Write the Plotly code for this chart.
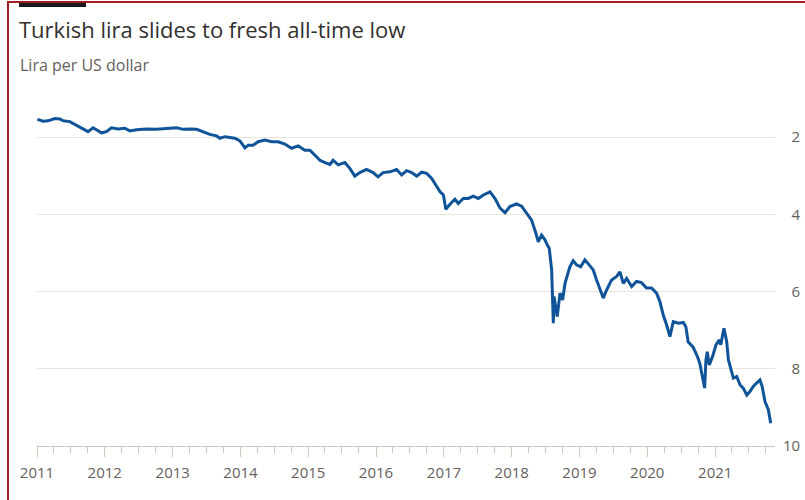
import plotly.graph_objects as go

# ---- data ----
dates = [
    "2011-01-03", "2011-02-03", "2011-03-02", "2011-04-07", "2011-05-04", "2011-05-22",
    "2011-06-27", "2011-08-02", "2011-08-29", "2011-10-03", "2011-10-30", "2011-11-17",
    "2011-12-14", "2012-01-10", "2012-02-06", "2012-03-13", "2012-04-18", "2012-05-15",
    "2012-06-20", "2012-08-13", "2012-10-05", "2012-11-28", "2013-01-22", "2013-02-27",
    "2013-04-04", "2013-05-10", "2013-06-14", "2013-07-20", "2013-08-25", "2013-09-12",
    "2013-10-09", "2013-11-05", "2013-12-02", "2013-12-29", "2014-01-25", "2014-02-12",
    "2014-03-10", "2014-04-06", "2014-05-12", "2014-06-18", "2014-07-23", "2014-08-28",
    "2014-10-03", "2014-11-08", "2014-12-14", "2015-01-10", "2015-02-06", "2015-03-05",
    "2015-04-01", "2015-04-28", "2015-05-15", "2015-06-11", "2015-07-17", "2015-08-13",
    "2015-09-09", "2015-10-06", "2015-11-11", "2015-12-16", "2016-01-12", "2016-02-08",
    "2016-03-16", "2016-04-21", "2016-05-18", "2016-06-14", "2016-07-11", "2016-08-07",
    "2016-09-03", "2016-09-30", "2016-10-27", "2016-11-23", "2016-12-11", "2016-12-29",
    "2017-01-11", "2017-02-06", "2017-03-01", "2017-03-19", "2017-04-15", "2017-05-12",
    "2017-06-08", "2017-07-05", "2017-08-01", "2017-09-06", "2017-10-03", "2017-10-30",
    "2017-11-26", "2017-12-22", "2018-01-27", "2018-02-23", "2018-03-22", "2018-04-18",
    "2018-05-11", "2018-05-24", "2018-06-11", "2018-06-29", "2018-07-11", "2018-07-22",
    "2018-08-04", "2018-08-10", "2018-08-13", "2018-08-17", "2018-09-03", "2018-09-18",
    "2018-10-02", "2018-10-15", "2018-10-27", "2018-11-10", "2018-11-28", "2018-12-16",
    "2019-01-07", "2019-01-30", "2019-02-22", "2019-03-16", "2019-04-03", "2019-04-21",
    "2019-05-09", "2019-05-27", "2019-06-23", "2019-07-20", "2019-08-07", "2019-08-25",
    "2019-09-12", "2019-10-09", "2019-11-04", "2019-12-01", "2019-12-28", "2020-01-24",
    "2020-02-20", "2020-03-09", "2020-03-27", "2020-04-14", "2020-05-02", "2020-05-20",
    "2020-06-16", "2020-07-13", "2020-07-27", "2020-08-08", "2020-09-04", "2020-09-26",
    "2020-10-10", "2020-11-05", "2020-11-12", "2020-11-19", "2020-11-30", "2020-12-18",
    "2021-01-05", "2021-01-23", "2021-01-31", "2021-02-17", "2021-03-04", "2021-03-13",
    "2021-03-26", "2021-04-09", "2021-04-27", "2021-05-15", "2021-06-01", "2021-06-20",
    "2021-07-07", "2021-07-25", "2021-08-12", "2021-08-30", "2021-09-11", "2021-09-26",
    "2021-10-14", "2021-10-27",
]
lira_per_usd = [
    1.54, 1.59, 1.58, 1.52, 1.53, 1.58,
    1.60, 1.69, 1.76, 1.86, 1.76, 1.82,
    1.89, 1.86, 1.76, 1.79, 1.77, 1.84,
    1.81, 1.79, 1.80, 1.78, 1.76, 1.80,
    1.79, 1.80, 1.86, 1.93, 1.97, 2.03,
    1.99, 2.02, 2.03, 2.10, 2.28, 2.21,
    2.21, 2.12, 2.08, 2.12, 2.12, 2.18,
    2.29, 2.23, 2.34, 2.34, 2.47, 2.60,
    2.66, 2.71, 2.60, 2.72, 2.66, 2.81,
    3.01, 2.92, 2.84, 2.92, 3.03, 2.92,
    2.90, 2.84, 2.98, 2.87, 2.92, 3.01,
    2.91, 2.94, 3.07, 3.29, 3.42, 3.50,
    3.87, 3.72, 3.61, 3.72, 3.59, 3.59,
    3.53, 3.59, 3.50, 3.42, 3.59, 3.84,
    3.96, 3.80, 3.73, 3.79, 3.97, 4.15,
    4.49, 4.71, 4.54, 4.66, 4.79, 4.88,
    5.44, 6.13, 6.82, 6.13, 6.65, 6.04,
    6.22, 5.79, 5.57, 5.36, 5.20, 5.31,
    5.36, 5.18, 5.31, 5.44, 5.70, 5.91,
    6.17, 5.96, 5.70, 5.61, 5.49, 5.79,
    5.66, 5.87, 5.74, 5.77, 5.91, 5.91,
    6.04, 6.26, 6.61, 6.86, 7.17, 6.78,
    6.82, 6.80, 6.91, 7.30, 7.44, 7.67,
    7.86, 8.50, 7.77, 7.56, 7.90, 7.68,
    7.38, 7.25, 7.38, 6.95, 7.30, 7.77,
    8.03, 8.24, 8.20, 8.42, 8.50, 8.68,
    8.59, 8.46, 8.37, 8.29, 8.46, 8.85,
    9.06, 9.41,
]
y_ticks = [2, 4, 6, 8, 10]
y_tick_labels = ["2", "4", "6", "8", "10"]
title_text = "Turkish lira slides to fresh all-time low"
subtitle_text = "Lira per US dollar"

# ---- figure ----
W, H = 805, 500
L, R, T, B = 37, 30, 100, 54
pw, ph = W - L - R, H - T - B


def px_x(p):
    return (p - L) / pw


def px_y(p):
    return (H - B - p) / ph


FONT = "Open Sans, Lato, sans-serif"
GREY = "#66605c"
GRID = "#ebe2d9"
AXIS = "#cfc6bd"
FIG_SPACE = "\u2007"  # digit-wide space so labels line up on the right

fig = go.Figure(
    go.Scatter(
        x=dates,
        y=lira_per_usd,
        mode="lines",
        line=dict(color="#0f5499", width=3),
        hoverinfo="x+y",
    )
)

fig.update_layout(
    width=W,
    height=H,
    margin=dict(l=L, r=R, t=T, b=B),
    paper_bgcolor="white",
    plot_bgcolor="white",
    showlegend=False,
    font=dict(family=FONT, color=GREY),
    title=dict(
        text=title_text,
        x=19 / W,
        xanchor="left",
        xref="container",
        y=1 - 30 / H,
        yref="container",
        yanchor="middle",
        font=dict(family=FONT, size=22, color="#33302e"),
    ),
    annotations=[
        dict(
            text=subtitle_text,
            xref="paper",
            yref="paper",
            x=px_x(18),
            y=px_y(65),
            xanchor="left",
            yanchor="middle",
            showarrow=False,
            font=dict(family=FONT, size=16, color=GREY),
        )
    ],
    shapes=[
        # red frame (left and top)
        dict(type="line", xref="paper", yref="paper",
             x0=px_x(8), x1=px_x(8), y0=px_y(1), y1=px_y(H),
             line=dict(color="#a31d24", width=2)),
        dict(type="line", xref="paper", yref="paper",
             x0=px_x(7), x1=px_x(W), y0=px_y(2), y1=px_y(2),
             line=dict(color="#a31d24", width=2)),
        # black tab
        dict(type="rect", xref="paper", yref="paper",
             x0=px_x(19), x1=px_x(86), y0=px_y(3), y1=px_y(7),
             fillcolor="#1a1a1a", line=dict(width=0)),
    ],
    xaxis=dict(
        type="date",
        range=["2011-01-01", "2021-11-19"],
        tick0="2011-01-01",
        dtick="M12",
        tickformat="%Y",
        ticks="outside",
        ticklen=10,
        tickcolor=AXIS,
        showgrid=False,
        showline=True,
        linecolor=AXIS,
        linewidth=1,
        zeroline=False,
        automargin=False,
        tickfont=dict(family=FONT, size=15, color=GREY),
        ticklabelstandoff=3,
        minor=dict(ticks="outside", ticklen=6, dtick="M3", tick0="2011-01-01",
                   tickcolor=AXIS, showgrid=False),
    ),
    yaxis=dict(
        range=[10, 1.04],
        side="right",
        tickvals=y_ticks,
        ticktext=[t.rjust(2, FIG_SPACE) for t in y_tick_labels],
        showgrid=True,
        gridcolor=GRID,
        gridwidth=1,
        zeroline=False,
        showline=False,
        automargin=False,
        ticks="outside",
        ticklen=4,
        tickcolor="rgba(0,0,0,0)",
        tickfont=dict(family=FONT, size=15, color=GREY),
    ),
)

fig.write_html(
    "out.html",
    config={"displayModeBar": False},
    post_script="document.body.style.margin='0';document.body.style.overflow='hidden';",
)
